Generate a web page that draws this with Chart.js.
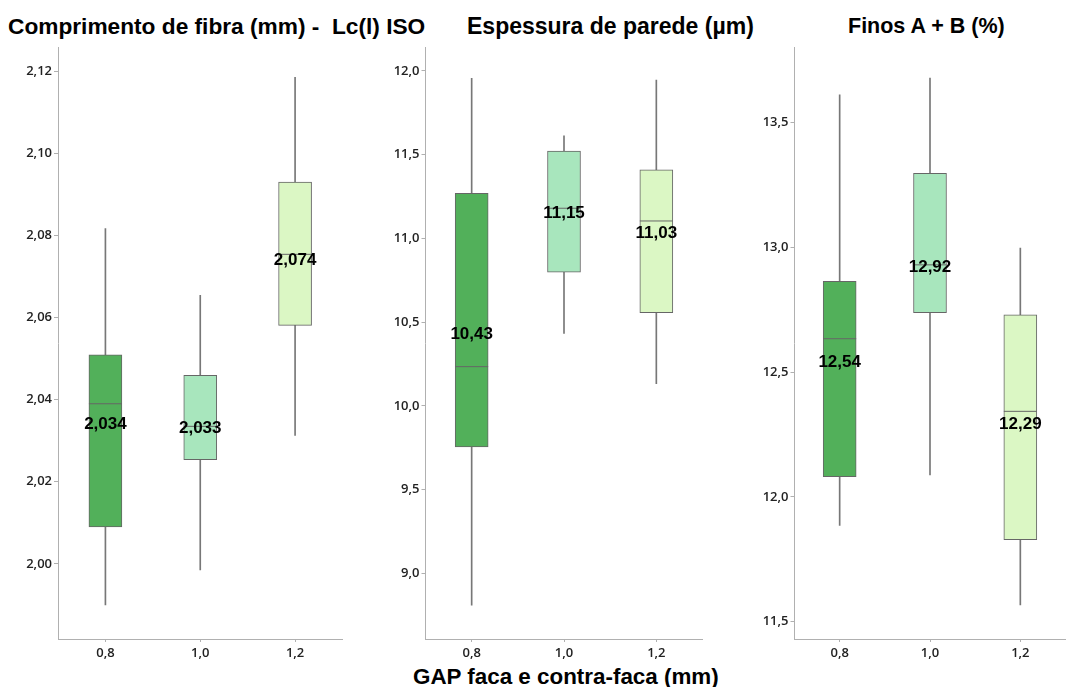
<!DOCTYPE html>
<html>
<head>
<meta charset="utf-8">
<script src="https://cdn.jsdelivr.net/npm/chart.js@4.4.1/dist/chart.umd.min.js"></script>
<style>
  html, body { margin:0; padding:0; background:#fff; width:1068px; height:687px; overflow:hidden; }
  canvas { position:absolute; top:0; }
  .ttl { position:absolute; white-space:nowrap; font-family:"Liberation Sans", Arial, sans-serif; font-weight:bold; font-size:22px; line-height:22px; color:#000; }
</style>
</head>
<body>
<div class="ttl" style="left:8px; top:15px; font-size:22.7px;">Comprimento de fibra (mm) -&nbsp; Lc(l) ISO</div>
<div class="ttl" style="left:467px; top:15px; font-size:23px;">Espessura de parede (µm)</div>
<div class="ttl" style="left:848px; top:15px; font-size:21.5px;">Finos A + B (%)</div>
<div class="ttl" style="left:413px; top:666px; font-size:22.4px;">GAP faca e contra-faca (mm)</div>

<canvas id="c1" width="360" height="687" style="left:0px"></canvas>
<canvas id="c2" width="360" height="687" style="left:360px"></canvas>
<canvas id="c3" width="363" height="687" style="left:720px"></canvas>

<script>
// ---- data ----
const categories = ['0,8', '1,0', '1,2'];

// Comprimento de fibra (mm)
const fibraMin    = [1.990, 1.9985, 2.0313];
const fibraQ1     = [2.009, 2.0254, 2.0581];
const fibraMedian = [2.039, 2.0335, 2.0754];
const fibraQ3     = [2.0509, 2.0459, 2.0930];
const fibraMax    = [2.0817, 2.0654, 2.1185];
const fibraMean   = [2.034, 2.033, 2.074];
const fibraMeanLabels = ['2,034', '2,033', '2,074'];
const fibraTicks  = [2.00, 2.02, 2.04, 2.06, 2.08, 2.10, 2.12];
const fibraTickLabels = ['2,00', '2,02', '2,04', '2,06', '2,08', '2,10', '2,12'];

// Espessura de parede (µm)
const paredeMin    = [8.810, 10.433, 10.132];
const paredeQ1     = [9.754, 10.799, 10.556];
const paredeMedian = [10.234, 11.180, 11.104];
const paredeQ3     = [11.269, 11.522, 11.410];
const paredeMax    = [11.956, 11.612, 11.946];
const paredeMean   = [10.43, 11.15, 11.03];
const paredeMeanLabels = ['10,43', '11,15', '11,03'];
const paredeTicks  = [9.0, 9.5, 10.0, 10.5, 11.0, 11.5, 12.0];
const paredeTickLabels = ['9,0', '9,5', '10,0', '10,5', '11,0', '11,5', '12,0'];

// Finos A + B (%)
const finosMin    = [11.886, 12.088, 11.567];
const finosQ1     = [12.081, 12.738, 11.829];
const finosMedian = [12.634, 12.930, 12.343];
const finosQ3     = [12.864, 13.297, 12.730];
const finosMax    = [13.611, 13.678, 12.997];
const finosMean   = [12.54, 12.92, 12.29];
const finosMeanLabels = ['12,54', '12,92', '12,29'];
const finosTicks  = [11.5, 12.0, 12.5, 13.0, 13.5];
const finosTickLabels = ['11,5', '12,0', '12,5', '13,0', '13,5'];

const boxColors = ['#52b05a', '#a8e6bd', '#dbf7c4'];

// ---- chart builder ----
const meanLabelPlugin = {
  id: 'meanLabels',
  afterDatasetsDraw(chart, args, opts) {
    const ctx = chart.ctx;
    const xs = chart.scales.x, ys = chart.scales.y;
    ctx.save();
    ctx.font = 'bold 17px "Liberation Sans", Arial, sans-serif';
    ctx.fillStyle = '#000';
    ctx.textAlign = 'center';
    ctx.textBaseline = 'middle';
    opts.values.forEach((v, i) => {
      ctx.fillText(opts.labels[i], xs.getPixelForValue(i), ys.getPixelForValue(v));
    });
    ctx.restore();
  }
};

const tickFont = { family: '"Open Sans", sans-serif', size: 13, weight: 600 };

function makePanel(id, cfg) {
  const pair = (a, b) => a.map((v, i) => [v, b[i]]);
  new Chart(document.getElementById(id), {
    type: 'bar',
    data: {
      labels: categories,
      datasets: [
        {
          type: 'line', order: 1, data: cfg.median, showLine: false,
          pointStyle: 'line', pointRadius: 16.5, pointHoverRadius: 16.5,
          pointBorderColor: '#666', pointBorderWidth: 1, pointBackgroundColor: '#666'
        },
        {
          order: 2, data: pair(cfg.q1, cfg.q3), grouped: false, barThickness: 33,
          backgroundColor: boxColors, borderColor: '#666', borderWidth: 1, borderSkipped: false
        },
        {
          order: 3, data: pair(cfg.min, cfg.max), grouped: false, barThickness: 1,
          backgroundColor: '#777', borderWidth: 0
        }
      ]
    },
    options: {
      responsive: false,
      animation: false,
      devicePixelRatio: 1,
      layout: { padding: { top: 47, bottom: 0, left: 0, right: cfg.padRight } },
      plugins: {
        legend: { display: false },
        tooltip: { enabled: false },
        meanLabels: { values: cfg.mean, labels: cfg.meanLabels }
      },
      scales: {
        x: {
          offset: true,
          grid: { display: true, offset: false, drawOnChartArea: false, tickLength: 3, color: '#b0b0b0' },
          border: { display: true, color: '#b0b0b0', width: 1 },
          ticks: { padding: 3, color: '#222', font: tickFont },
          afterFit(s) { s.height = 48; }
        },
        y: {
          min: cfg.yMin, max: cfg.yMax,
          afterBuildTicks(s) { s.ticks = cfg.ticks.map(v => ({ value: v })); },
          grid: { display: true, drawOnChartArea: false, tickLength: 4, color: '#b0b0b0' },
          border: { display: true, color: '#b0b0b0', width: 1 },
          ticks: {
            padding: 2, color: '#222', font: tickFont,
            callback(v) { const k = cfg.ticks.findIndex(t => Math.abs(t - v) < 1e-9); return k >= 0 ? cfg.tickLabels[k] : ''; }
          },
          afterFit(s) { s.width = cfg.yWidth; }
        }
      }
    },
    plugins: [meanLabelPlugin]
  });
}

makePanel('c1', {
  min: fibraMin, q1: fibraQ1, median: fibraMedian, q3: fibraQ3, max: fibraMax,
  mean: fibraMean, meanLabels: fibraMeanLabels, ticks: fibraTicks, tickLabels: fibraTickLabels,
  yMin: 1.9817, yMax: 2.1259, yWidth: 58, padRight: 14
});
makePanel('c2', {
  min: paredeMin, q1: paredeQ1, median: paredeMedian, q3: paredeQ3, max: paredeMax,
  mean: paredeMean, meanLabels: paredeMeanLabels, ticks: paredeTicks, tickLabels: paredeTickLabels,
  yMin: 8.6075, yMax: 12.143, yWidth: 65.5, padRight: 6.5
});
makePanel('c3', {
  min: finosMin, q1: finosQ1, median: finosMedian, q3: finosQ3, max: finosMax,
  mean: finosMean, meanLabels: finosMeanLabels, ticks: finosTicks, tickLabels: finosTickLabels,
  yMin: 11.4307, yMax: 13.803, yWidth: 74.5, padRight: 0
});
</script>
</body>
</html>
